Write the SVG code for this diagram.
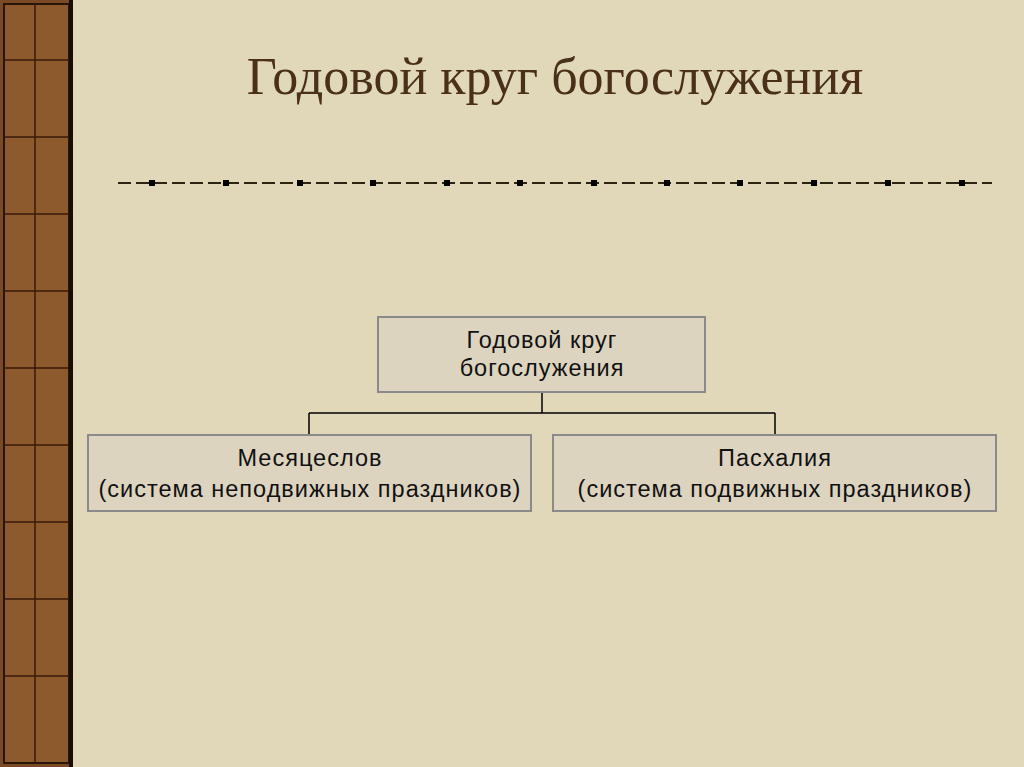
<svg xmlns="http://www.w3.org/2000/svg" width="1024" height="767" viewBox="0 0 1024 767">
<style>
.box{fill:#ddd4c0;stroke:#8a8a8a;stroke-width:2}
.t{font-family:"Liberation Sans",Arial,sans-serif;font-size:23.5px;letter-spacing:1px;fill:#111;text-anchor:middle}
.c{stroke:#000;stroke-width:1.5;fill:none}
.sq{fill:#000}
</style>
<rect width="1024" height="767" fill="#e0d8b8"/>
<g id="border">
<rect x="0" y="0" width="73" height="767" fill="#7a4a26"/>
<rect x="4" y="4" width="65" height="759" fill="#8c5a2c" stroke="#2a1608" stroke-width="2"/>
<path d="M35 4V763M4 60H69M4 137H69M4 214H69M4 291H69M4 368H69M4 445H69M4 522H69M4 599H69M4 676H69" stroke="#3a1a0a" stroke-width="1.5"/>
<rect x="69" y="0" width="4" height="767" fill="#1a0d05"/>
</g>
<text x="555" y="94" font-family="Liberation Serif,serif" font-size="52" fill="#4a2f1a" text-anchor="middle">Годовой круг богослужения</text>
<g id="rule">
<line x1="118" y1="183" x2="992" y2="183" stroke="#2a2410" stroke-width="2" stroke-dasharray="13,5"/>
<g class="sq">
<rect x="149" y="180" width="6" height="6"/><rect x="223" y="180" width="6" height="6"/><rect x="297" y="180" width="6" height="6"/><rect x="370" y="180" width="6" height="6"/><rect x="444" y="180" width="6" height="6"/><rect x="517" y="180" width="6" height="6"/><rect x="591" y="180" width="6" height="6"/><rect x="664" y="180" width="6" height="6"/><rect x="737" y="180" width="6" height="6"/><rect x="811" y="180" width="6" height="6"/><rect x="885" y="180" width="6" height="6"/><rect x="959" y="180" width="6" height="6"/>
</g>
</g>
<g id="connectors">
<path class="c" d="M542 392V413M309 413H775M309 413V435M775 413V435"/>
</g>
<g id="root">
<rect class="box" x="378" y="317" width="327" height="75"/>
<text class="t" x="542" y="348">Годовой круг</text>
<text class="t" x="542" y="376">богослужения</text>
</g>
<g id="menologion">
<rect class="box" x="88" y="435" width="443" height="76"/>
<text class="t" x="310" y="466">Месяцеслов</text>
<text class="t" x="310" y="497">(система неподвижных праздников)</text>
</g>
<g id="paschalia">
<rect class="box" x="553" y="435" width="443" height="76"/>
<text class="t" x="775" y="466">Пасхалия</text>
<text class="t" x="775" y="497">(система подвижных праздников)</text>
</g>
</svg>
